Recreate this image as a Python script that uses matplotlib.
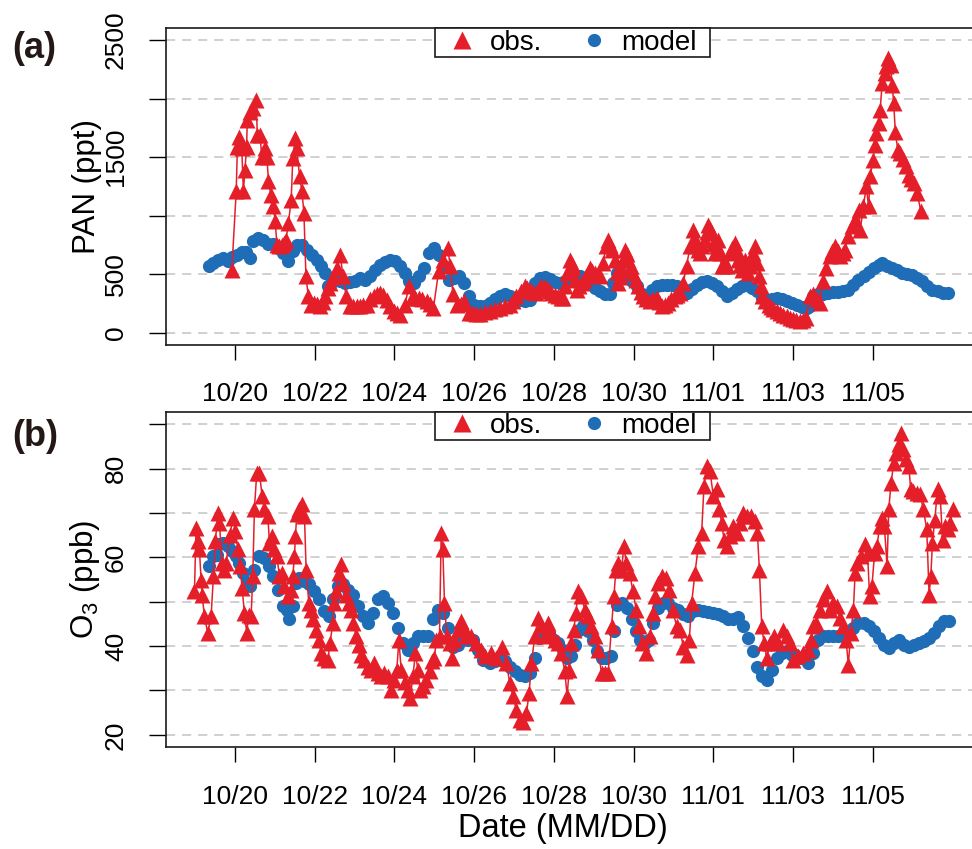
import numpy as np
import matplotlib
matplotlib.use('Agg')
import matplotlib.pyplot as plt
from matplotlib.lines import Line2D
from matplotlib.patches import Rectangle

plt.rcParams['font.family'] = ['Liberation Sans', 'DejaVu Sans']
plt.rcParams['mathtext.fontset'] = 'custom'
plt.rcParams['mathtext.rm'] = 'Liberation Sans'
plt.rcParams['mathtext.default'] = 'regular'

# ---------------- data (x = days since 10/20 00:00) ----------------
date_ticks = [0, 2, 4, 6, 8, 10, 12, 14, 16]
date_labels = ['10/20', '10/22', '10/24', '10/26', '10/28', '10/30', '11/01', '11/03', '11/05']
series_labels = ['obs.', 'model']

pan_yticks = [0, 500, 1000, 1500, 2000, 2500]
pan_ylabels = ['0', '500', '', '1500', '', '2500']
o3_yticks = [20, 30, 40, 50, 60, 70, 80, 90]
o3_ylabels = ['20', '', '40', '', '60', '', '80', '']

pan_obs_day = [-0.08, 0.03, 0.06, 0.11, 0.17, 0.21, 0.25, 0.29, 0.31, 0.38, 0.44, 0.53, 0.56, 0.63,
               0.67, 0.75, 0.80, 0.84, 0.90, 0.96, 1.01, 1.05, 1.11, 1.17, 1.23, 1.28, 1.34, 1.41,
               1.45, 1.51, 1.55, 1.62, 1.68, 1.73, 1.78, 1.84, 1.90, 1.97, 2.05, 2.14, 2.20, 2.26,
               2.33, 2.39, 2.47, 2.55, 2.64, 2.71, 2.79, 2.89, 2.97, 3.06, 3.14, 3.22, 3.31, 3.40,
               3.48, 3.56, 3.64, 3.72, 3.81, 3.90, 3.98, 4.06, 4.15, 4.27, 4.36, 4.44, 4.52, 4.61,
               4.70, 4.82, 4.90, 4.98, 5.11, 5.23, 5.34, 5.40, 5.47, 5.57, 5.66, 5.74, 5.86, 5.96,
               6.06, 6.16, 6.27, 6.39, 6.52, 6.64, 6.77, 6.89, 6.98, 7.06, 7.17, 7.27, 7.34, 7.40,
               7.48, 7.56, 7.63, 7.69, 7.76, 7.82, 7.88, 7.94, 8.03, 8.11, 8.17, 8.23, 8.29, 8.34,
               8.40, 8.45, 8.49, 8.53, 8.57, 8.64, 8.70, 8.76, 8.82, 8.90, 8.97, 9.03, 9.10, 9.16,
               9.24, 9.31, 9.37, 9.41, 9.45, 9.53, 9.58, 9.62, 9.66, 9.70, 9.74, 9.78, 9.83, 9.87,
               9.93, 9.99, 10.06, 10.12, 10.18, 10.24, 10.32, 10.41, 10.50, 10.58, 10.65, 10.71,
               10.79, 10.87, 10.95, 11.04, 11.10, 11.17, 11.25, 11.33, 11.42, 11.50, 11.54, 11.58,
               11.62, 11.67, 11.73, 11.79, 11.84, 11.88, 11.92, 11.96, 12.00, 12.05, 12.09, 12.13,
               12.17, 12.21, 12.28, 12.34, 12.41, 12.48, 12.55, 12.59, 12.63, 12.68, 12.72, 12.76,
               12.80, 12.84, 12.88, 12.92, 12.96, 13.00, 13.05, 13.10, 13.15, 13.19, 13.23, 13.31,
               13.39, 13.45, 13.51, 13.60, 13.68, 13.76, 13.85, 13.93, 14.01, 14.09, 14.18, 14.26,
               14.34, 14.42, 14.51, 14.60, 14.68, 14.76, 14.84, 14.93, 14.99, 15.05, 15.12, 15.18,
               15.25, 15.31, 15.39, 15.48, 15.56, 15.65, 15.69, 15.77, 15.84, 15.90, 15.94, 16.01,
               16.05, 16.09, 16.15, 16.19, 16.24, 16.30, 16.34, 16.38, 16.45, 16.49, 16.53, 16.57,
               16.63, 16.70, 16.76, 16.83, 16.91, 16.97, 17.04, 17.12, 17.21]
pan_obs_val = [534, 1207, 1590, 1676, 1576, 1207, 1392, 1590, 1818, 1889, 1917, 1988, 1690, 1690,
               1505, 1576, 1505, 1292, 1179, 1079, 951, 753, 740, 753, 770, 795, 937, 1136,
               1491, 1661, 1576, 1335, 1207, 1022, 483, 312, 240, 256, 245, 233, 260, 312,
               380, 426, 480, 554, 667, 483, 312, 227, 230, 225, 233, 235, 241, 290,
               312, 330, 341, 320, 284, 230, 185, 165, 156, 241, 398, 298, 300, 298,
               290, 270, 250, 213, 525, 625, 724, 568, 327, 241, 250, 270, 170, 165,
               160, 160, 175, 185, 200, 213, 225, 241, 270, 312, 360, 398, 380, 369,
               350, 341, 370, 398, 390, 383, 360, 341, 325, 312, 300, 298, 400, 511,
               625, 590, 554, 450, 369, 400, 426, 455, 483, 554, 530, 511, 495, 483,
               596, 738, 795, 750, 710, 625, 520, 426, 480, 540, 620, 710, 670, 625,
               570, 511, 450, 398, 350, 312, 290, 270, 285, 298, 260, 227,
               240, 256, 285, 312, 325, 341, 426, 568, 738, 880, 800, 738,
               710, 682, 740, 795, 860, 923, 890, 852, 760, 682, 740, 795,
               680, 568, 570, 568, 682, 720, 767, 700, 625, 580, 540, 580,
               625, 570, 511, 570, 625, 680, 738, 600, 483, 400, 312, 275,
               241, 220, 199, 185, 170, 155, 142, 128, 114, 105, 99, 110,
               128, 312, 327, 290, 256, 440, 554, 653, 700, 738, 700, 653,
               680, 710, 824, 909, 966, 1051, 880, 1079, 1250, 1079, 1335, 1477,
               1600, 1704, 1789, 1903, 2130, 2215, 2280, 2343, 2286, 2120, 1960, 1718,
               1562, 1534, 1480, 1420, 1349, 1310, 1278, 1193, 1037]

pan_mod_day = [-0.653, -0.544, -0.419, -0.293, -0.168, -0.084, 0.042, 0.168, 0.276, 0.377, 0.461,
               0.586, 0.712, 0.838, 0.963, 1.089, 1.214, 1.340, 1.449, 1.549, 1.675, 1.801, 1.926,
               2.052, 2.161, 2.261, 2.345, 2.404, 2.513, 2.638, 2.764, 2.889, 3.015, 3.141, 3.266,
               3.392, 3.518, 3.643, 3.769, 3.894, 4.020, 4.146, 4.271, 4.355, 4.481, 4.606, 4.732,
               4.858, 4.983, 5.109, 5.235, 5.360, 5.486, 5.611, 5.737, 5.863, 5.988, 6.156, 6.266,
               6.392, 6.518, 6.643, 6.769, 6.894, 7.020, 7.146, 7.271, 7.397, 7.523, 7.648, 7.774,
               7.899, 8.025, 8.151, 8.276, 8.402, 8.528, 8.653, 8.779, 8.905, 9.030, 9.156, 9.281,
               9.407, 9.491, 9.575, 9.700, 9.826, 9.951, 10.077, 10.203, 10.328, 10.454, 10.580,
               10.705, 10.831, 10.956, 11.082, 11.208, 11.333, 11.459, 11.585, 11.710, 11.836,
               11.961, 12.087, 12.213, 12.338, 12.464, 12.590, 12.715, 12.841, 12.966, 13.092,
               13.218, 13.343, 13.469, 13.595, 13.720, 13.846, 13.972, 14.097, 14.223, 14.348,
               14.422, 14.506, 14.633, 14.759, 14.886, 15.013, 15.139, 15.266, 15.392, 15.519,
               15.646, 15.772, 15.899, 16.025, 16.152, 16.236, 16.363, 16.489, 16.616, 16.743,
               16.869, 16.996, 17.122, 17.249, 17.376, 17.502, 17.629, 17.755, 17.882]
pan_mod_val = [568, 596, 625, 639, 611, 648, 667, 690, 687, 639, 781,
               809, 795, 761, 761, 724, 682, 611, 696, 753, 753, 710, 667,
               625, 568, 511, 398, 426, 469, 440, 426, 432, 440, 469, 454,
               483, 540, 582, 602, 619, 611, 568, 511, 440, 426, 483, 554,
               682, 724, 667, 568, 454, 469, 483, 426, 312, 241, 227, 233,
               256, 290, 318, 327, 318, 298, 278, 270, 284, 426, 469, 477,
               460, 432, 426, 440, 469, 488, 488, 469, 426, 383, 355, 335,
               327, 426, 511, 497, 483, 440, 398, 327, 298, 369, 398,
               406, 412, 412, 398, 364, 341, 375, 412, 435, 440,
               426, 398, 355, 312, 341, 375, 403, 412, 383, 355,
               298, 278, 290, 298, 290, 270, 256, 241, 222, 213,
               230, 312, 327, 335, 341, 346, 349, 355, 369, 412,
               454, 488, 520, 554, 582, 596, 574, 554, 534, 511,
               506, 497, 469, 440, 398, 369, 355, 341, 341]

o3_obs_day = [-1.017, -0.977, -0.935, -0.893, -0.851, -0.826, -0.767, -0.684, -0.600, -0.542,
              -0.491, -0.433, -0.391, -0.324, -0.266, -0.224, -0.123, -0.056, 0.010, 0.069,
              0.128, 0.178, 0.236, 0.295, 0.345, 0.404, 0.446, 0.487, 0.546, 0.613, 0.680,
              0.739, 0.823, 0.865, 0.931, 0.990, 1.049, 1.116, 1.183, 1.241, 1.325, 1.408,
              1.450, 1.492, 1.517, 1.550, 1.617, 1.684, 1.743, 1.785, 1.852, 1.910, 1.969,
              2.036, 2.103, 2.161, 2.245, 2.329, 2.387, 2.454, 2.496, 2.538, 2.605, 2.664,
              2.722, 2.789, 2.856, 2.915, 2.973, 3.040, 3.107, 3.165, 3.249, 3.333, 3.416,
              3.500, 3.584, 3.667, 3.751, 3.835, 3.919, 4.002, 4.061, 4.112, 4.170, 4.254,
              4.337, 4.396, 4.463, 4.529, 4.588, 4.646, 4.713, 4.797, 4.881, 4.947, 5.006,
              5.048, 5.132, 5.174, 5.215, 5.257, 5.316, 5.383, 5.450, 5.508, 5.592, 5.676,
              5.734, 5.801, 5.927, 6.052, 6.178, 6.266, 6.434, 6.559, 6.710, 6.811, 6.894,
              6.978, 7.062, 7.146, 7.229, 7.313, 7.380, 7.439, 7.523, 7.606, 7.690, 7.774,
              7.858, 7.941, 8.025, 8.109, 8.192, 8.276, 8.335, 8.385, 8.444, 8.503, 8.553,
              8.611, 8.695, 8.779, 8.863, 8.946, 9.030, 9.114, 9.198, 9.281, 9.365, 9.449,
              9.508, 9.558, 9.616, 9.700, 9.759, 9.817, 9.901, 9.985, 10.069, 10.136, 10.219,
              10.320, 10.412, 10.479, 10.538, 10.621, 10.705, 10.814, 10.898, 10.982, 11.082,
              11.166, 11.250, 11.333, 11.400, 11.459, 11.543, 11.627, 11.710, 11.769, 11.836,
              11.920, 12.003, 12.087, 12.154, 12.213, 12.271, 12.338, 12.422, 12.506, 12.590,
              12.673, 12.757, 12.841, 12.941, 13.050, 13.109, 13.159, 13.218, 13.276, 13.343,
              13.427, 13.528, 13.637, 13.745, 13.846, 13.916, 14.000, 14.127, 14.253, 14.380,
              14.464, 14.506, 14.591, 14.675, 14.743, 14.844, 14.928, 15.013, 15.114, 15.181,
              15.266, 15.333, 15.392, 15.451, 15.519, 15.561, 15.620, 15.705, 15.814, 15.873,
              15.924, 15.983, 16.051, 16.110, 16.177, 16.236, 16.295, 16.363, 16.405, 16.464,
              16.532, 16.599, 16.658, 16.717, 16.768, 16.827, 16.911, 16.954, 17.021, 17.105,
              17.190, 17.274, 17.359, 17.418, 17.460, 17.502, 17.561, 17.629, 17.696, 17.755,
              17.814, 17.899, 17.949, 18.008]
o3_obs_val = [52.4, 66.6, 63.6, 61.8, 55.0, 51.6, 46.7, 43.0, 46.7, 55.7,
              63.6, 70.0, 67.8, 58.7, 57.2, 58.7, 65.1, 68.9, 65.9, 61.8,
              58.0, 53.1, 47.5, 43.0, 47.1, 46.7, 55.7, 70.8, 79.1, 79.1, 73.8,
              70.8, 69.3, 63.3, 64.8, 61.8, 60.3, 55.7, 56.5, 53.5, 51.2, 52.7,
              55.7, 60.3, 64.8, 69.7, 70.8, 71.9, 69.3, 57.2, 49.7, 48.2, 46.0,
              43.7, 41.4, 38.4, 37.3, 36.9, 40.7, 45.2, 49.7, 52.4, 56.5, 58.4,
              54.2, 51.6, 49.7, 48.2, 45.2, 42.2, 40.3, 38.1, 36.9, 35.4, 34.7,
              36.2, 33.9, 33.2, 33.9, 33.2, 30.2, 32.4, 34.7, 41.4, 34.7, 32.0,
              30.2, 28.3, 33.2, 38.4, 34.7, 30.2, 30.9, 32.4, 34.3, 36.6, 37.3,
              41.4, 42.2, 65.5, 61.8, 49.7, 42.2, 40.7, 37.3, 41.4, 43.7, 45.6,
              44.5, 42.2, 42.2, 40.7, 39.2, 37.7, 38.4, 37.3, 39.9, 36.2, 31.7,
              28.7, 25.6, 23.4, 23.0, 24.9, 29.4, 36.2, 42.2, 46.3, 44.5, 42.2,
              45.2, 42.9, 41.4, 40.7, 38.4, 34.3, 28.7, 34.7, 40.7, 43.7, 47.5,
              52.4, 51.2, 48.2, 46.7, 44.5, 42.2, 39.2, 33.9, 33.9, 33.9, 44.5,
              51.2, 57.2, 58.7, 57.2, 62.5, 58.7, 56.5, 52.4, 48.2, 44.5, 40.7,
              38.4, 42.2, 47.5, 51.2, 54.2, 55.7, 55.4, 52.7, 48.2, 44.5,
              43.7, 39.9, 38.1, 41.4, 49.7, 56.5, 62.5, 65.5, 76.1, 80.6,
              79.4, 73.8, 75.3, 70.8, 67.8, 64.0, 62.5, 64.8, 67.0, 65.5,
              67.8, 70.0, 69.3, 69.3, 68.2, 65.5, 57.2, 44.5, 40.7, 37.3,
              40.7, 42.2, 40.7, 43.7, 42.2, 40.7, 36.9, 37.7, 38.4, 39.2,
              41.4, 44.5, 45.2, 48.2, 50.5, 52.4, 48.2, 49.7, 49.0, 46.3,
              44.5, 41.4, 35.8, 43.0, 48.2, 56.5, 58.7, 60.3, 62.9, 61.0,
              51.2, 53.5, 61.0, 62.5, 67.0, 68.9, 67.0, 58.0, 70.8, 76.8,
              81.3, 83.6, 85.5, 88.1, 84.3, 82.1, 80.6, 75.3, 74.9, 74.5,
              74.2, 70.8, 66.3, 51.6, 55.7, 63.3, 68.5, 75.3, 73.8, 64.0,
              67.0, 66.3, 67.8, 70.8]

o3_mod_day = [-0.659, -0.559, -0.458, -0.391, -0.291, -0.182, -0.073, 0.027, 0.111, 0.195, 0.295,
              0.378, 0.487, 0.613, 0.739, 0.864, 0.965, 1.073, 1.199, 1.299, 1.366, 1.450, 1.533,
              1.617, 1.743, 1.868, 1.993, 2.119, 2.245, 2.370, 2.454, 2.580, 2.706, 2.831, 2.957,
              3.082, 3.208, 3.333, 3.459, 3.584, 3.710, 3.836, 3.961, 4.086, 4.212, 4.337, 4.463,
              4.588, 4.714, 4.839, 4.965, 5.090, 5.216, 5.341, 5.467, 5.593, 5.718, 5.844, 5.969,
              6.095, 6.220, 6.392, 6.518, 6.643, 6.769, 6.894, 7.020, 7.146, 7.271, 7.397, 7.523,
              7.631, 7.732, 7.874, 8.000, 8.109, 8.235, 8.335, 8.444, 8.528, 8.637, 8.737, 8.863,
              8.972, 9.089, 9.198, 9.307, 9.424, 9.508, 9.591, 9.700, 9.826, 9.951, 10.060,
              10.161, 10.286, 10.395, 10.496, 10.621, 10.747, 10.873, 10.998, 11.124, 11.250,
              11.375, 11.501, 11.627, 11.752, 11.878, 12.003, 12.129, 12.255, 12.380, 12.506,
              12.631, 12.757, 12.883, 12.992, 13.109, 13.218, 13.343, 13.469, 13.595, 13.720,
              13.846, 13.972, 14.042, 14.211, 14.380, 14.506, 14.633, 14.759, 14.886, 15.013,
              15.139, 15.266, 15.392, 15.519, 15.646, 15.772, 15.899, 16.025, 16.152, 16.278,
              16.405, 16.532, 16.658, 16.785, 16.911, 17.038, 17.165, 17.291, 17.418, 17.544,
              17.671, 17.797, 17.924]
o3_mod_val = [58.0, 60.3, 60.6, 62.9, 63.3, 62.5, 61.4, 60.3, 58.7, 56.5, 54.2,
              53.5, 57.2, 60.3, 59.9, 58.0, 55.7, 52.7, 49.0, 48.2, 46.0, 49.0, 54.2,
              55.4, 54.6, 53.9, 52.4, 50.5, 47.8, 46.7, 50.5, 53.5, 53.9, 52.7, 51.6,
              49.0, 46.7, 45.2, 47.5, 50.5, 51.2, 49.7, 47.5, 44.1, 40.7, 39.2, 40.7,
              42.2, 42.2, 42.2, 46.0, 48.2, 47.5, 44.1, 39.9, 40.3, 41.4, 41.4, 41.4,
              39.2, 36.9, 36.2, 36.6, 36.9, 36.6, 35.4, 34.3, 33.5, 33.2, 33.9, 37.3,
              41.8, 43.3, 42.9, 41.4, 40.7, 39.2, 37.3, 37.7, 40.3, 43.7, 44.5, 43.3,
              41.4, 38.8, 37.3, 37.3, 37.7, 43.3, 49.3, 49.7, 48.6, 46.0, 43.3,
              41.4, 40.7, 41.4, 45.2, 48.6, 49.7, 49.7, 48.6, 48.2, 47.3,
              46.7, 47.8, 48.2, 47.8, 47.6, 47.5, 47.3, 46.7, 46.0, 46.1,
              46.6, 44.5, 41.8, 38.8, 35.4, 33.2, 32.4, 34.7, 37.3, 38.4,
              38.8, 38.1, 38.1, 37.3, 36.2, 38.4, 41.4, 42.2, 42.2, 42.2,
              42.2, 42.2, 42.9, 44.1, 45.2, 45.2, 44.5, 43.3, 41.8, 40.3,
              39.6, 40.7, 41.4, 40.3, 39.9, 40.3, 40.7, 41.1, 41.8, 42.9,
              44.5, 45.6, 45.6]

# ---------------- styling ----------------
RED = '#E41F2A'
BLUE = '#1E6DB6'
W, H = 972.0, 849.0

fig = plt.figure(figsize=(9.72, 8.49), dpi=100)


def frac(x0, y0, x1, y1):
    return [x0 / W, 1 - y1 / H, (x1 - x0) / W, (y1 - y0) / H]


ax1 = fig.add_axes(frac(165.5, 28.3, 975, 344.5))
ax2 = fig.add_axes(frac(165.5, 411.7, 975, 747.3))

x_left = (165.5 - 235.0) / 39.85
x_right = (975.0 - 235.0) / 39.85

legends = []


def style(ax, yticks, ylabels, ylim, ylabel):
    ax.set_xlim(x_left, x_right)
    ax.set_ylim(*ylim)
    ax.set_xticks(date_ticks)
    ax.set_xticklabels(date_labels)
    ax.set_yticks(yticks)
    ax.set_yticklabels(ylabels, rotation=90, va='center')
    ax.tick_params(axis='x', direction='out', length=11, width=1.0, pad=16, labelsize=19)
    ax.tick_params(axis='y', direction='out', length=12, width=1.0, pad=15, labelsize=19)
    ax.grid(axis='y', linestyle=(0, (6, 4.5)), color='#c3c3c3', linewidth=1.1)
    ax.set_axisbelow(True)
    for s in ['left', 'top', 'bottom']:
        ax.spines[s].set_linewidth(1.2)
        ax.spines[s].set_color('#1a1a1a')
    ax.spines['right'].set_visible(False)
    ax.set_ylabel(ylabel, fontsize=22.5)
    ax.yaxis.set_label_coords(-0.078, 0.5)
    handles = [Line2D([], [], color=RED, marker='^', ls='none', ms=12.5, mec='none'),
               Line2D([], [], color=BLUE, marker='o', ls='none', ms=9.5, mec='none')]
    leg = ax.legend(handles, series_labels, loc='upper center', bbox_to_anchor=(0.5028, 1.0),
                    ncol=2, frameon=False, borderaxespad=0, fontsize=20, handlelength=1.0,
                    handletextpad=0.5, columnspacing=1.35, borderpad=0.05)
    leg.set_zorder(10)
    legends.append((ax, leg))


ax1.plot(pan_mod_day, pan_mod_val, ls='none', marker='o', ms=9.5, color=BLUE, mec='none', zorder=2)
ax1.plot(pan_obs_day, pan_obs_val, color=RED, lw=1.1, marker='^', ms=11.5, mec='none', zorder=3)
style(ax1, pan_yticks, pan_ylabels, (-100, 2600), 'PAN (ppt)')

ax2.plot(o3_mod_day, o3_mod_val, ls='none', marker='o', ms=9.5, color=BLUE, mec='none', zorder=2)
ax2.plot(o3_obs_day, o3_obs_val, color=RED, lw=1.1, marker='^', ms=11.5, mec='none', zorder=3)
style(ax2, o3_yticks, o3_ylabels, (17.2, 92.8), 'O$_3$ (ppb)')

# legend frame with wider horizontal padding (R style box)
fig.canvas.draw()
for ax, leg in legends:
    bb = leg.get_window_extent()
    (x0, y0), (x1, y1) = ax.transAxes.inverted().transform([[bb.x0 - 12, bb.y0], [bb.x1 + 12, bb.y1]])
    ax.add_patch(Rectangle((x0, y0), x1 - x0, 1.0 - y0, transform=ax.transAxes, facecolor='white',
                           edgecolor='#1a1a1a', linewidth=1.2, zorder=9, clip_on=False))

fig.text(34 / W, 1 - 49 / H, '(a)', fontsize=26, fontweight='bold', ha='center', va='center',
         color='#231815')
fig.text(35 / W, 1 - 437 / H, '(b)', fontsize=26, fontweight='bold', ha='center', va='center',
         color='#231815')
fig.text(563 / W, 1 - 828 / H, 'Date (MM/DD)', fontsize=23.5, ha='center', va='center')

fig.savefig('out.png', dpi=100)
